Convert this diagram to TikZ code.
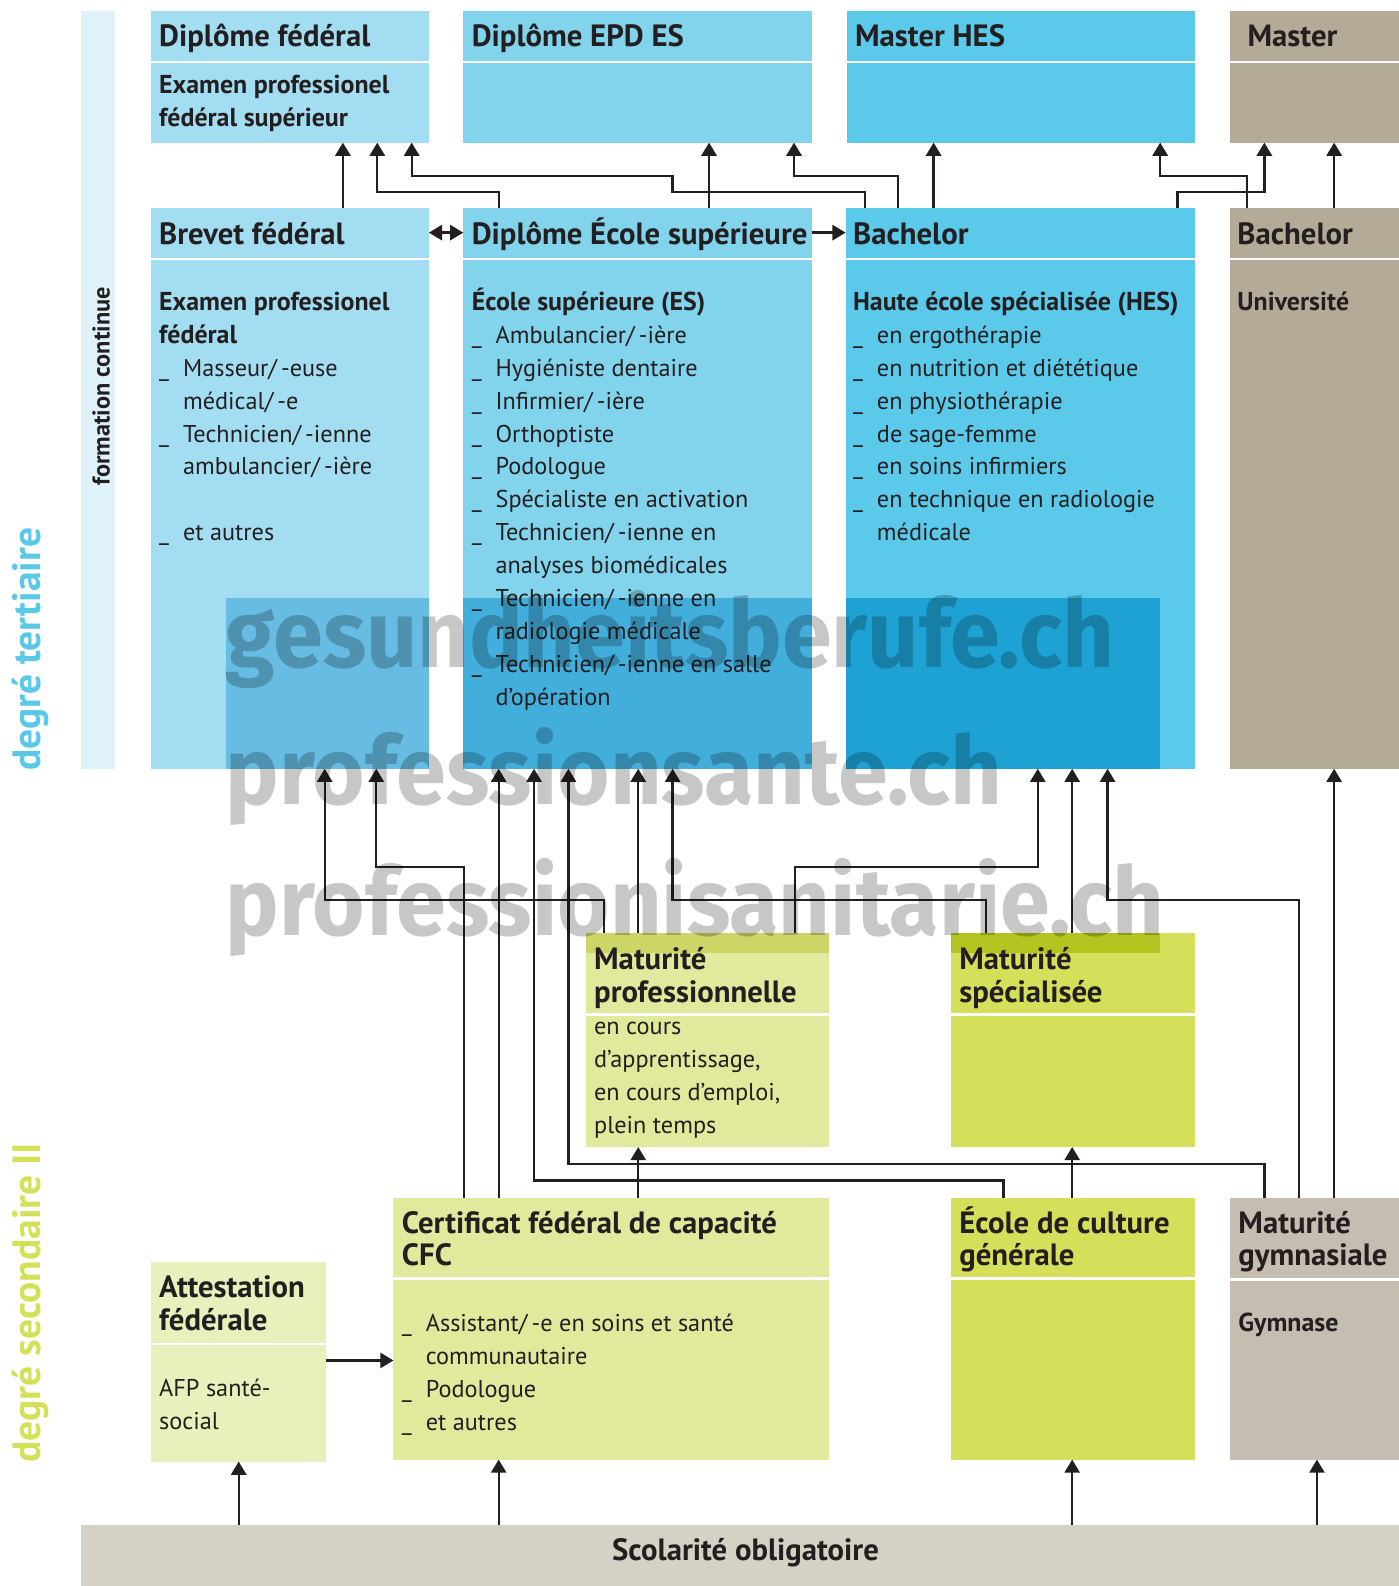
\documentclass[tikz,border=0pt]{standalone}
\usepackage{fontspec}
\setmainfont{PT Sans}
\newfontfamily\wmfont{Fira Sans}[FakeStretch=0.945]
\usetikzlibrary{arrows.meta}
\definecolor{ink}{HTML}{231F20}
\definecolor{cA}{HTML}{A3DDF1}
\definecolor{cB}{HTML}{82D3EC}
\definecolor{cC}{HTML}{5BC9E9}
\definecolor{cU}{HTML}{B3AB98}
\definecolor{cG}{HTML}{C4BDB0}
\definecolor{gL}{HTML}{E1E99C}
\definecolor{gM}{HTML}{D4E05A}
\definecolor{gA}{HTML}{E8F0BC}
\definecolor{cS}{HTML}{D5D1C5}
\definecolor{cF}{HTML}{DFF2F9}
\definecolor{ovA}{HTML}{66BCE2}
\definecolor{ovB}{HTML}{42AEDC}
\definecolor{ovC}{HTML}{1EA2D4}
\definecolor{ovG}{HTML}{CCD565}
\definecolor{ovH}{HTML}{B1C41F}
\definecolor{lblue}{HTML}{5BC8E8}
\definecolor{lgreen}{HTML}{D4E05A}
\newcommand{\mybox}[6]{\node[box, fill=#6, minimum width={(#4-#2)*0.5pt}, minimum height={(#5-#3)*0.5pt}] (#1) at (#2,#3) {};}
\newcommand{\txtlines}[6]{\foreach \t [count=\i] in {#6} {\node[#2] (#1\i) at (#3,{#4+(\i-1)*#5}) {\t};}}
\newcommand{\bul}[1]{\makebox[11.8pt][l]{\_}#1}
\newcommand{\ind}[1]{\hspace*{11.8pt}#1}
\newcommand{\bb}{\fontsize{12.8}{16}\selectfont\bfseries}
\tikzset{
 box/.style={draw=none, inner sep=0pt, outer sep=0pt, anchor=north west},
 hd/.style={font=\fontsize{15.2}{18}\selectfont\bfseries, text=ink, inner sep=0pt, anchor=base west},
 bd/.style={font=\fontsize{12}{16}\selectfont, text=ink, inner sep=0pt, anchor=base west},
 arr/.style={draw=ink, line width=1.15pt, -{Triangle[width=7.5pt,length=6.5pt]}},
 arrb/.style={draw=ink, line width=1.15pt, {Triangle[width=7.5pt,length=6.5pt]}-{Triangle[width=7.5pt,length=6.5pt]}},
 sep/.style={draw=white, line width=1.1pt},
 wm/.style={font={\wmfont\fontsize{47}{50}\selectfont\bfseries}, text=black, text opacity=0.22, inner sep=0pt, anchor=base west},
}
\begin{document}
\begin{tikzpicture}[x=0.5pt,y=-0.5pt]
\useasboundingbox (0,0) rectangle (1383,1568);
% side labels
\fill[cF] (80,11) rectangle (114,760);
\node[rotate=90, font=\fontsize{12}{14}\selectfont\bfseries, text=ink, inner sep=0pt] (fc) at (100,382) {formation continue};
\node[rotate=90, font=\fontsize{19.5}{22}\selectfont\bfseries, text=lblue, inner sep=0pt] (dt) at (30,642) {degré tertiaire};
\node[rotate=90, font=\fontsize{19.5}{22}\selectfont\bfseries, text=lgreen, inner sep=0pt] (ds) at (30,1288) {degré secondaire II};
% boxes
\mybox{DF}{149}{11}{424}{141}{cA}
\mybox{EPD}{458}{11}{803}{141}{cB}
\mybox{MHES}{837}{11}{1181}{141}{cC}
\mybox{Master}{1216}{11}{1383}{141}{cU}
\mybox{Brevet}{149}{206}{424}{760}{cA}
\mybox{ES}{458}{206}{803}{760}{cB}
\mybox{HES}{836}{206}{1181}{760}{cC}
\mybox{Uni}{1216}{206}{1383}{760}{cU}
\mybox{MatPro}{579}{922}{820}{1134}{gL}
\mybox{MatSpec}{940}{922}{1181}{1134}{gM}
\mybox{CFC}{389}{1184}{820}{1443}{gL}
\mybox{ECG}{940}{1184}{1181}{1443}{gM}
\mybox{MatGym}{1216}{1184}{1383}{1443}{cG}
\mybox{Att}{149}{1248}{322}{1445}{gA}
\mybox{Scol}{80}{1508}{1383}{1568}{cS}
% darker overlay band
\fill[ovA] (223,591) rectangle (Brevet.south east);
\fill[ovB] (ES.west |- 0,591) rectangle (ES.south east);
\fill[ovC] (HES.west |- 0,591) rectangle (1147,760);
\fill[ovG] (MatPro.north west) rectangle (MatPro.east |- 0,942);
\fill[ovH] (MatSpec.north west) rectangle (1147,942);
% header separators
\foreach \b in {DF,EPD,MHES,Master} {\draw[sep] (\b.west |- 0,61) -- (\b.east |- 0,61);}
\foreach \b in {Brevet,ES,HES,Uni} {\draw[sep] (\b.west |- 0,256) -- (\b.east |- 0,256);}
\foreach \b in {MatPro,MatSpec} {\draw[sep] (\b.west |- 0,1003) -- (\b.east |- 0,1003);}
\foreach \b in {CFC,ECG} {\draw[sep] (\b.west |- 0,1264) -- (\b.east |- 0,1264);}
\draw[sep] (MatGym.west |- 0,1265) -- (MatGym.east |- 0,1265);
\draw[sep] (Att.west |- 0,1329) -- (Att.east |- 0,1329);
% texts row 1
\node[hd] (DFh) at (157,46) {Diplôme fédéral};
\txtlines{DFb}{bd}{157}{92}{33}{{\bb Examen professionel},{\bb fédéral supérieur}}
\node[hd] (EPDh) at (466,46) {Diplôme EPD ES};
\node[hd] (MHESh) at (845,46) {Master HES};
\node[hd] (Masterh) at (1233,46) {Master};
% texts row 2
\node[hd] (Breveth) at (157,242) {Brevet fédéral};
\txtlines{Bb}{bd}{157}{307}{32.5}{{\bb Examen professionel},{\bb fédéral},\bul{Masseur/\,-euse},\ind{médical/\,-e},\bul{Technicien/\,-ienne},\ind{ambulancier/\,-ière},{},\bul{et autres}}
\node[hd] (ESh) at (466,242) {Diplôme École supérieure};
\txtlines{ESb}{bd}{466}{307}{32.5}{{\bb École supérieure (ES)},\bul{Ambulancier/\,-ière},\bul{Hygiéniste dentaire},\bul{Infirmier/\,-ière},\bul{Orthoptiste},\bul{Podologue},\bul{Spécialiste en activation},\bul{Technicien/\,-ienne en},\ind{analyses biomédicales},\bul{Technicien/\,-ienne en},\ind{radiologie médicale},\bul{Technicien/\,-ienne en salle},\ind{d’opération}}
\node[hd] (HESh) at (843,242) {Bachelor};
\txtlines{HESb}{bd}{843}{307}{32.5}{{\bb Haute école spécialisée (HES)},\bul{en ergothérapie},\bul{en nutrition et diététique},\bul{en physiothérapie},\bul{de sage-femme},\bul{en soins infirmiers},\bul{en technique en radiologie},\ind{médicale}}
\node[hd] (Unih) at (1223,242) {Bachelor};
\node[bd, font=\bb] (Unib) at (1223,307) {Université};
% maturité row
\txtlines{MPh}{hd}{587}{958}{33}{Maturité,professionnelle}
\txtlines{MPb}{bd}{587}{1023}{32.5}{en cours,{d’apprentissage,},{en cours d’emploi,},plein temps}
\txtlines{MSh}{hd}{948}{958}{33}{Maturité,spécialisée}
% bottom row
\txtlines{CFCh}{hd}{397}{1219}{32.5}{Certificat fédéral de capacité,CFC}
\txtlines{CFCb}{bd}{397}{1316}{32.7}{\bul{Assistant/\,-e en soins et santé},\ind{communautaire},\bul{Podologue},\bul{et autres}}
\txtlines{ECGh}{hd}{948}{1219}{32.5}{École de culture,générale}
\txtlines{MGh}{hd}{1224}{1219}{32.5}{Maturité,gymnasiale}
\node[bd, font=\bb] (MGb) at (1224,1316) {Gymnase};
\txtlines{Atth}{hd}{157}{1283}{32.5}{Attestation,fédérale}
\txtlines{Attb}{bd}{157}{1381}{32.5}{AFP santé-,social}
\node[hd, anchor=base] (Scolt) at (737,1543) {Scolarité obligatoire};
% connectors top
\draw[arr] (Brevet.north -| 339,0) -- (DF.south -| 339,0);
\draw[arr] (ES.north -| 493,0) |- (373,190) -- (DF.south -| 373,0);
\draw[arr] (HES.north -| 855,0) |- (665,190) |- (407,174) -- (DF.south -| 407,0);
\draw[arr] (ES.north -| 701,0) -- (EPD.south -| 701,0);
\draw[arr] (HES.north -| 888,0) |- (785,174) -- (EPD.south -| 785,0);
\draw[arr] (HES.north -| 923,0) -- (MHES.south -| 923,0);
\draw[arr] (Uni.north -| 1233,0) |- (1147,174) -- (MHES.south -| 1147,0);
\draw[arr] (HES.north -| 1164,0) |- (1250,190) -- (Master.south -| 1250,0);
\draw[arr] (Uni.north -| 1319,0) -- (Master.south -| 1319,0);
\draw[arrb] (Brevet.east |- 0,230) -- (ES.west |- 0,230);
\draw[arr] (ES.east |- 0,230) -- (HES.west |- 0,230);
% connectors middle
\draw[arr] (MatPro.north -| 597,0) |- (321,890) -- (Brevet.south -| 321,0);
\draw[arr] (CFC.north -| 459,0) |- (372,857) -- (Brevet.south -| 372,0);
\draw[arr] (CFC.north -| 493,0) -- (ES.south -| 493,0);
\draw[arr] (ECG.north -| 992,0) |- (528,1167) -- (ES.south -| 528,0);
\draw[arr] (MatGym.north -| 1250,0) |- (562,1151) -- (ES.south -| 562,0);
\draw[arr] (MatPro.north -| 631,0) -- (ES.south -| 631,0);
\draw[arr] (MatSpec.north -| 975,0) |- (665,890) -- (ES.south -| 665,0);
\draw[arr] (MatPro.north -| 786,0) |- (1026,857) -- (HES.south -| 1026,0);
\draw[arr] (MatSpec.north -| 1060,0) -- (HES.south -| 1060,0);
\draw[arr] (MatGym.north -| 1284,0) |- (1095,890) -- (HES.south -| 1095,0);
\draw[arr] (MatGym.north -| 1319,0) -- (Uni.south -| 1319,0);
\draw[arr] (CFC.north -| 631,0) -- (MatPro.south -| 631,0);
\draw[arr] (ECG.north -| 1060,0) -- (MatSpec.south -| 1060,0);
\draw[arr] (Att.east |- 0,1345) -- (CFC.west |- 0,1345);
\draw[arr] (Scol.north -| 236,0) -- (Att.south -| 236,0);
\draw[arr] (Scol.north -| 493,0) -- (CFC.south -| 493,0);
\draw[arr] (Scol.north -| 1060,0) -- (ECG.south -| 1060,0);
\draw[arr] (Scol.north -| 1302,0) -- (MatGym.south -| 1302,0);
% watermark
\node[wm] (wm1) at (223,660) {gesundheitsberufe.ch};
\node[wm] (wm2) at (223,795) {professionsante.ch};
\node[wm] (wm3) at (223,925) {professionisanitarie.ch};
\end{tikzpicture}
\end{document}
